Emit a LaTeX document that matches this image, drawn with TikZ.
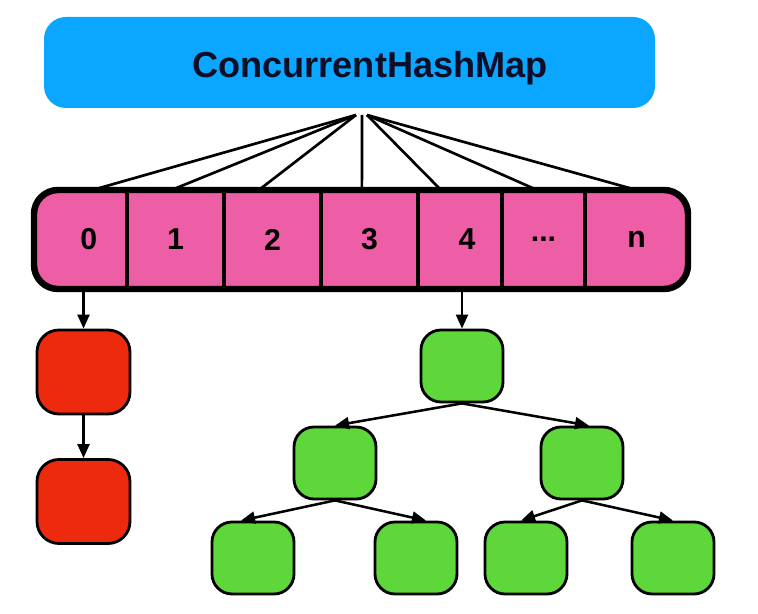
\documentclass[tikz,border=0pt]{standalone}
\usepackage{fontspec}
\setmainfont{Liberation Sans}
\usepackage{tikz}
\usepackage{xcolor}
\usetikzlibrary{arrows.meta}

\definecolor{mapblue}{RGB}{10,166,255}
\definecolor{titleink}{RGB}{14,14,38}
\definecolor{slotpink}{RGB}{238,94,166}
\definecolor{listred}{RGB}{238,42,14}
\definecolor{treegreen}{RGB}{93,215,58}

\tikzset{
  slot/.style={inner sep=0, outer sep=0, minimum width=#1, minimum height=2.475cm,
    font=\fontsize{21.5}{25}\selectfont\bfseries},
  listnode/.style={draw, line width=2pt, fill=listred, rounded corners=0.55cm,
    minimum width=2.325cm, minimum height=2.1cm},
  treenode/.style={draw, line width=2pt, fill=treegreen, rounded corners=0.5cm,
    minimum width=2.05cm, minimum height=1.8cm},
  fan/.style={line width=1.9pt},
  link/.style={-{Triangle[length=10pt,width=8.5pt]}, line width=1.8pt},
}

\begin{document}
\begin{tikzpicture}
  \useasboundingbox (0,0) rectangle (18.95,15.35);
  \node[fill=mapblue, rounded corners=0.55cm, minimum width=15.275cm, minimum height=2.275cm] (chm) at (8.7375,13.7875) {};
  \node[font=\fontsize{25.7}{30}\selectfont\bfseries, text=titleink] (title) at (9.25,13.65) {ConcurrentHashMap};

  \node[draw, line width=4.6pt, fill=slotpink, rounded corners=0.6cm, minimum width=16.35cm, minimum height=2.475cm] (arr) at (9.025,9.3625) {};
  \node[slot=2.325cm] (c0) at (2.0125,9.3625) {\hspace*{0.42cm}0};
  \node[slot=2.425cm] (c1) at (4.3875,9.3625) {1};
  \node[slot=2.425cm] (c2) at (6.8125,9.3625) {2};
  \node[slot=2.425cm] (c3) at (9.2375,9.3625) {3};
  \node[slot=2.1cm] (c4) at (11.5,9.3625) {\hspace*{0.35cm}4};
  \node[slot=2.075cm] (c5) at (13.5875,9.3625) {...};
  \node[slot=2.575cm] (c6) at (15.9125,9.3625) {n};
  \draw[line width=3.4pt] (c0.north east) -- (c0.south east);
  \draw[line width=3.4pt] (c1.north east) -- (c1.south east);
  \draw[line width=3.4pt] (c2.north east) -- (c2.south east);
  \draw[line width=3.4pt] (c3.north east) -- (c3.south east);
  \draw[line width=3.4pt] (c4.north east) -- (c4.south east);
  \draw[line width=3.4pt] (c5.north east) -- (c5.south east);

  % fan from the map to the slots
  \coordinate (hubL) at (8.9,12.475);
  \coordinate (hubM) at (9.05,12.475);
  \coordinate (hubR) at (9.175,12.475);
  \draw[fan] (hubL) -- ([xshift=0.3cm]c0.north);
  \draw[fan] (hubL) -- ([xshift=-0.1cm]c1.north);
  \draw[fan] (hubL) -- ([xshift=-0.34cm]c2.north);
  \draw[fan] (hubM) -- ([xshift=-0.19cm]c3.north);
  \draw[fan] (hubR) -- ([xshift=-0.475cm]c4.north);
  \draw[fan] (hubR) -- ([xshift=-0.16cm]c5.north);
  \draw[fan] (hubR) -- (c6.north);

  % linked list
  \node[listnode] (r1) at (2.0875,6.05) {};
  \node[listnode] (r2) at (2.0875,2.8125) {};
  \draw[link] (r1.north |- c0.south) -- (r1.north);
  \draw[link] (r1.south) -- (r2.north);

  % tree
  \node[treenode] (g) at (11.55,6.2) {};
  \node[treenode] (gl) at (8.375,3.775) {};
  \node[treenode] (gr) at (14.55,3.775) {};
  \node[treenode] (gll) at (6.325,1.4) {};
  \node[treenode] (glr) at (10.4,1.4) {};
  \node[treenode] (grl) at (13.15,1.4) {};
  \node[treenode] (grr) at (16.825,1.4) {};
  \draw[link] (g.north |- c4.south) -- (g.north);
  \draw[link] (g.south) -- (gl.north);
  \draw[link] (g.south) -- ([xshift=0.175cm]gr.north);
  \draw[link] (gl.south) -- ([xshift=-0.3cm]gll.north);
  \draw[link] (gl.south) -- ([xshift=0.25cm]glr.north);
  \draw[link] (gr.south) -- ([xshift=-0.125cm]grl.north);
  \draw[link] (gr.south) -- (grr.north);
\end{tikzpicture}
\end{document}
